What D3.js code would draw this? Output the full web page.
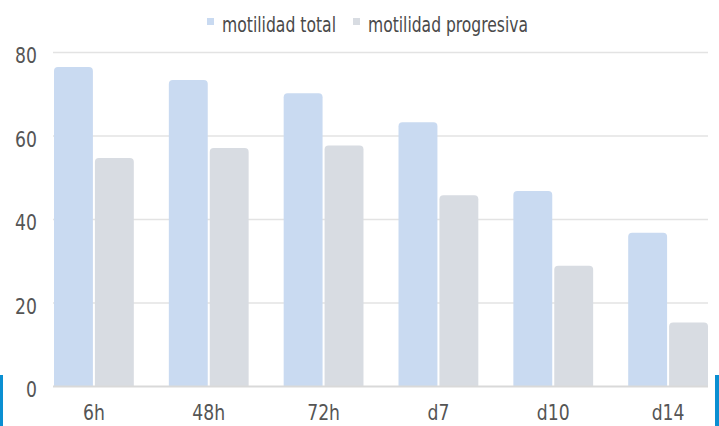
<!DOCTYPE html>
<html>
<head>
<meta charset="utf-8">
<script src="https://cdn.jsdelivr.net/npm/d3@7"></script>
<style>
  html, body { margin: 0; padding: 0; background: #fff; }
  svg text { font-family: "DejaVu Sans Condensed", "Liberation Sans Narrow", sans-serif; fill: #555; }
</style>
</head>
<body>
<svg id="chart" width="719" height="426"></svg>
<script>
// chart data
const categories = ["6h", "48h", "72h", "d7", "d10", "d14"];
const seriesNames = ["motilidad total", "motilidad progresiva"];
const totalValues = [76.4, 73.3, 70.1, 63.2, 46.7, 36.7];
const progValues = [54.6, 57.0, 57.6, 45.7, 28.8, 15.2];
const yTicks = [0, 20, 40, 60, 80];

const colors = ["#c9daf1", "#d8dce2"];
const svg = d3.select("#chart");

// plot area
const plotLeft = 54, plotRight = 708, plotTop = 52, plotBottom = 386;
const squeeze = 0.87; // narrow the glyphs, the original font is condensed

const x0 = d3.scaleBand()
    .domain(categories)
    .range([plotLeft, plotRight])
    .paddingInner(0.305)
    .paddingOuter(0);

const x1 = d3.scaleBand()
    .domain(seriesNames)
    .range([0, x0.bandwidth()])
    .padding(0);

const y = d3.scaleLinear().domain([0, 80]).range([plotBottom, plotTop]);

// gridlines
svg.append("g").selectAll("line")
    .data(yTicks.filter(d => d > 0))
    .enter().append("line")
    .attr("x1", plotLeft - 1).attr("x2", plotRight)
    .attr("y1", d => y(d) + 0.5).attr("y2", d => y(d) + 0.5)
    .attr("stroke", "#e3e3e3").attr("stroke-width", 1.5);

// y labels
svg.append("g").selectAll("text")
    .data(yTicks)
    .enter().append("text")
    .attr("transform", d => `translate(37,${y(d) + 11}) scale(${squeeze},1)`)
    .attr("text-anchor", "end")
    .style("font-size", "22px")
    .text(d => d);

// rounded top bar
function barPath(x, yTop, w, h, r) {
    r = Math.min(r, h);
    return `M${x},${yTop + h}V${yTop + r}Q${x},${yTop} ${x + r},${yTop}` +
        `H${x + w - r}Q${x + w},${yTop} ${x + w},${yTop + r}V${yTop + h}Z`;
}

const rows = categories.map((c, i) => ({ cat: c, vals: [totalValues[i], progValues[i]] }));

const groups = svg.append("g").selectAll("g")
    .data(rows)
    .enter().append("g")
    .attr("transform", d => `translate(${x0(d.cat)},0)`);

groups.selectAll("path")
    .data(d => d.vals.map((v, j) => ({ name: seriesNames[j], v: v, j: j })))
    .enter().append("path")
    .attr("d", d => {
        const bx = x1(d.name) + (d.j === 1 ? 1 : 0);
        const bw = x1.bandwidth() - 1;
        return barPath(bx, y(d.v), bw, plotBottom - y(d.v), 4);
    })
    .attr("fill", d => colors[d.j]);

// baseline
svg.append("line")
    .attr("x1", plotLeft - 1).attr("x2", plotRight)
    .attr("y1", plotBottom + 0.5).attr("y2", plotBottom + 0.5)
    .attr("stroke", "#d9d9d9").attr("stroke-width", 2);

// x labels
svg.append("g").selectAll("text")
    .data(categories)
    .enter().append("text")
    .attr("transform", d => `translate(${x0(d) + x0.bandwidth() / 2},420) scale(${squeeze},1)`)
    .attr("text-anchor", "middle")
    .style("font-size", "22px")
    .text(d => d);

// legend
const legendX = [207, 353];
const legendW = [114, 160];
const legend = svg.append("g").selectAll("g")
    .data(seriesNames)
    .enter().append("g")
    .attr("transform", (d, i) => `translate(${legendX[i]},0)`);
legend.append("rect")
    .attr("x", 0).attr("y", 18).attr("width", 7).attr("height", 7)
    .attr("fill", (d, i) => colors[i]);
legend.append("text")
    .attr("x", 15).attr("y", 32)
    .attr("textLength", (d, i) => legendW[i])
    .attr("lengthAdjust", "spacingAndGlyphs")
    .style("font-size", "22px")
    .style("fill", "#4a4a4a")
    .text(d => d);

// blue edge markers
svg.append("rect").attr("x", 0).attr("y", 375).attr("width", 3).attr("height", 51).attr("fill", "#0a8fd2");
svg.append("rect").attr("x", 715).attr("y", 375).attr("width", 4).attr("height", 51).attr("fill", "#0a8fd2");
</script>
</body>
</html>
